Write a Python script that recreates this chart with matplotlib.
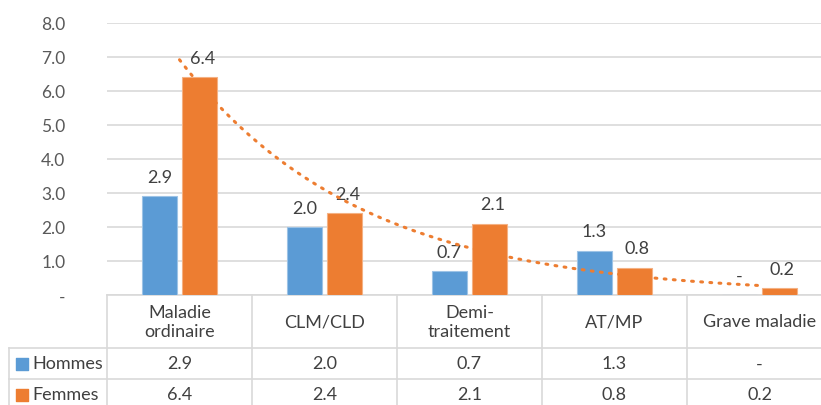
import matplotlib.pyplot as plt
import numpy as np

plt.rcParams['font.family'] = ['Lato', 'DejaVu Sans']

categories = ['Maladie\nordinaire', 'CLM/CLD', 'Demi-\ntraitement', 'AT/MP', 'Grave maladie']
hommes = [2.9, 2.0, 0.7, 1.3, 0.0]
femmes = [6.4, 2.4, 2.1, 0.8, 0.2]
series_names = ['Hommes', 'Femmes']
yticks = [0, 1, 2, 3, 4, 5, 6, 7, 8]

blue = '#5B9BD5'
orange = '#ED7D31'
grid_c = '#D9D9D9'
txt_c = '#404040'
fs = 13


def fmt(v):
    return '-' if v == 0 else f'{v:.1f}'


fig = plt.figure(figsize=(8.21, 4.06), dpi=100)
# plot area: x 107..832 px, y 24..296 px
ax = fig.add_axes([107 / 821, 110 / 406, 725 / 821, 272 / 406])

x = np.arange(len(categories))
w = 0.235
off = 0.138
ax.bar(x - off, hommes, width=w, color=blue, edgecolor='#9DC3E6', linewidth=0.8, zorder=3)
ax.bar(x + off, femmes, width=w, color=orange, edgecolor='#F4B183', linewidth=0.8, zorder=3)

for i in range(len(categories)):
    ax.annotate(fmt(hommes[i]), (x[i] - off, hommes[i]), xytext=(0, 14), textcoords='offset points',
                ha='center', va='center', fontsize=fs, color=txt_c)
    ax.annotate(fmt(femmes[i]), (x[i] + off, femmes[i]), xytext=(2, 14), textcoords='offset points',
                ha='center', va='center', fontsize=fs, color=txt_c)

# exponential trend line on Femmes
b, a = np.polyfit(x + 1, np.log(femmes), 1)
xt = np.linspace(0, 4, 200)
ax.plot(xt, np.exp(a + b * (xt + 1)), color=orange, linestyle=(0, (0.6, 2.4)),
        linewidth=2.2, dash_capstyle='round', zorder=4)

ax.set_xlim(-0.5, len(categories) - 0.5)
ax.set_ylim(0, 8)
ax.set_yticks(yticks)
ax.set_yticklabels([fmt(float(t)) for t in yticks], fontsize=12.5, color='#595959')
ax.tick_params(axis='y', length=0, pad=30)
ax.tick_params(axis='x', length=0, labelbottom=False)
ax.set_xticks([])
ax.grid(axis='y', color=grid_c, linewidth=1.2, zorder=0)
for s in ['top', 'right', 'left']:
    ax.spines[s].set_visible(False)
ax.spines['bottom'].set_color(grid_c)
ax.spines['bottom'].set_linewidth(1.2)

# data table below the plot
tr = ax.get_xaxis_transform()


def fy(p):
    return (296 - p) / 272


left = -0.5 - 98 / 145
y_head, y_h, y_f, y_end = fy(349), fy(380), fy(411), fy(420)
lk = dict(color=grid_c, linewidth=1.2, transform=tr, clip_on=False)
for xv in np.arange(-0.5, len(categories) - 0.5, 1.0):
    ax.plot([xv, xv], [0, y_end], **lk)
ax.plot([left, left], [y_head, y_end], **lk)
for yv in [y_head, y_h]:
    ax.plot([left, len(categories)], [yv, yv], **lk)

for i, c in enumerate(categories):
    ax.text(x[i], fy(322.5), c, transform=tr, ha='center', va='center', fontsize=fs,
            color=txt_c, linespacing=1.25)
    ax.text(x[i], fy(364.5), fmt(hommes[i]), transform=tr, ha='center', va='center',
            fontsize=fs, color=txt_c)
    ax.text(x[i], fy(395.5), fmt(femmes[i]), transform=tr, ha='center', va='center',
            fontsize=fs, color=txt_c)

key_x = -0.5 - 85 / 145
for name, col, yp in [(series_names[0], blue, 364.5), (series_names[1], orange, 395.5)]:
    ax.scatter([key_x], [fy(yp)], marker='s', s=80, color=col, transform=tr, clip_on=False)
    ax.text(-0.5 - 75 / 145, fy(yp), name, transform=tr, ha='left', va='center',
            fontsize=fs, color=txt_c)

fig.savefig('out.png', dpi=100)
